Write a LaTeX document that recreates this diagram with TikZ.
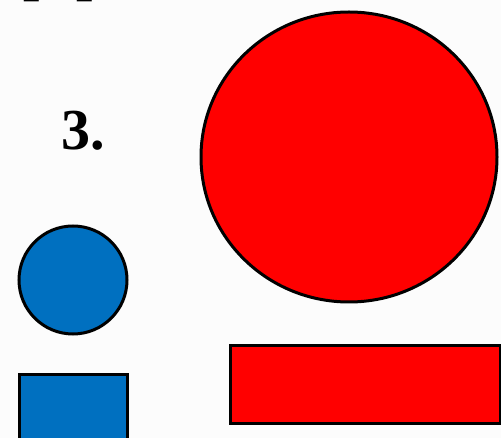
\documentclass[tikz,border=0pt]{standalone}
\usepackage{fontspec}
\setmainfont{Liberation Serif}
\definecolor{shapered}{RGB}{255,0,0}
\definecolor{shapeblue}{RGB}{0,112,192}
\tikzset{
  shapeline/.style={draw=black, line width=3pt},
  redshape/.style={shapeline, fill=shapered},
  blueshape/.style={shapeline, fill=shapeblue},
  bigtext/.style={font=\fontsize{58}{62}\selectfont\bfseries, inner sep=0pt, anchor=base}
}
\begin{document}
\begin{tikzpicture}[x=1pt, y=-1pt]
\useasboundingbox (0,0) rectangle (501,438);
\clip (0,0) rectangle (501,438);
\fill[white!98!gray] (0,0) rectangle (501,438);
% clipped line of text at top (only descenders visible)
\node[bigtext] (toptext1) at (40,-10) {p};
\node[bigtext] (toptext2) at (93,-10) {p};
% label
\node[bigtext] (label) at (83,150) {3.};
% shapes
\draw[redshape] (349,157) ellipse [x radius=148, y radius=145];
\draw[blueshape] (73,280) circle [radius=54];
\draw[blueshape] (19,375) rectangle (127,450);
\draw[redshape] (230,346) rectangle (500,424);
\end{tikzpicture}
\end{document}
